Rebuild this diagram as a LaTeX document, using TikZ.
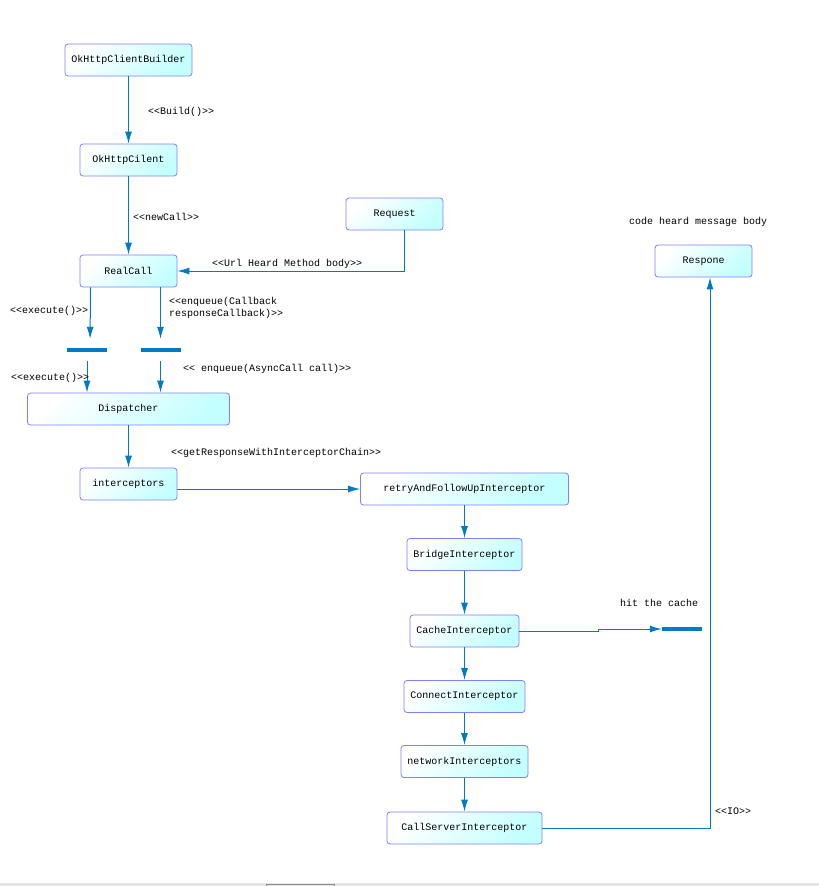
\documentclass[tikz,border=0pt]{standalone}
\usepackage{fontspec}
\setmonofont{Liberation Mono}
\usetikzlibrary{arrows.meta,positioning}

\definecolor{flowblue}{RGB}{0,122,192}
\definecolor{boxborder}{RGB}{128,128,255}
\definecolor{boxcyan}{RGB}{196,255,255}

\begin{document}
\begin{tikzpicture}[x=1pt,y=-1pt,
  class/.style={draw=boxborder, line width=0.8pt, rounded corners=3pt, top color=white, bottom color=boxcyan, shading angle=45, minimum height=32pt, inner sep=0pt, font=\ttfamily\fontsize{10}{12}\selectfont},
  flow/.style={flowblue, line width=1pt, -{Latex[length=12pt,width=7pt]}},
  fork/.style={fill=flowblue, minimum width=40pt, minimum height=4pt, inner sep=0pt},
  tag/.style={anchor=west, inner sep=0pt, font=\ttfamily\fontsize{10}{12}\selectfont}]

 \fill[white] (0,0) rectangle (819,886);
 \useasboundingbox (0,0) rectangle (819,886);

    % draw classes
    \node[class, minimum width=127pt] (builder) at (128.5,60) {OkHttpClientBuilder};
    \node[class, minimum width=97pt] (client) at (128.5,160) {OkHttpCilent};
    \node[class, minimum width=97pt] (request) at (394.5,214) {Request};
    \node[class, minimum width=97pt] (realcall) at (128.5,271) {RealCall};
    \node[class, minimum width=97pt] (respone) at (703.5,261) {Respone};
    \node[class, minimum width=202pt] (dispatcher) at (128.5,409) {Dispatcher};
    \node[class, minimum width=97pt] (interceptors) at (128.5,484) {interceptors};

    % interceptor chain
    \node[class, minimum width=208pt] (retry) at (464.5,489) {retryAndFollowUpInterceptor};
    \node[class, minimum width=115pt] (bridge) at (464.5,554.5) {BridgeInterceptor};
    \node[class, minimum width=109pt] (cache) at (464.5,631) {CacheInterceptor};
    \node[class, minimum width=121pt] (connect) at (464.5,696.5) {ConnectInterceptor};
    \node[class, minimum width=127pt] (network) at (464.5,761.5) {networkInterceptors};
    \node[class, minimum width=155pt] (callserver) at (464.5,828) {CallServerInterceptor};

    % draw fork bars
    \node[fork] (execbar) at (87,350) {};
    \node[fork] (enqbar) at (160.5,350) {};
    \node[fork] (hitbar) at (682,629) {};

    % draw connectors
    \draw[flow] (builder) -- (client);
    \draw[flow] (client) -- (realcall);
    \draw[flow] ([xshift=10pt]request.south) |- (realcall.east);
    \draw[flow, shorten >=9pt] ([xshift=-38pt]realcall.south) -- ([xshift=3pt]execbar.north);
    \draw[flow, shorten >=9pt] (realcall.south -| enqbar) -- (enqbar.north);
    \draw[flow, shorten <=9pt] (execbar.south) -- (execbar.south |- dispatcher.north);
    \draw[flow, shorten <=9pt] (enqbar.south) -- (enqbar.south |- dispatcher.north);
    \draw[flow] (dispatcher) -- (interceptors);
    \draw[flow] (interceptors.east |- retry) -- (retry.west);
    \draw[flow] (retry) -- (bridge);
    \draw[flow] (bridge) -- (cache);
    \draw[flow] (cache.east) -- ++(79,0) |- (hitbar.west);
    \draw[flow] (cache) -- (connect);
    \draw[flow] (connect) -- (network);
    \draw[flow] (network) -- (callserver);
    \draw[flow] (callserver.east) -| ([xshift=6.5pt]respone.south);

    % draw labels
    \node[tag] (buildlbl) at (148,112) {<<Build()>>};
    \node[tag] (newcalllbl) at (133,217) {<<newCall>>};
    \node[tag] (urllbl) at (212,264) {<<Url Heard Method body>>};
    \node[tag] (execlbl) at (10,311) {<<execute()>>};
    \node[tag, align=left] (enqlbl) at (169,308) {<<enqueue(Callback\\responseCallback)>>};
    \node[tag] (execlbltwo) at (11,378) {<<execute()>>};
    \node[tag] (asynclbl) at (183,369) {<< enqueue(AsyncCall call)>>};
    \node[tag] (chainlbl) at (171,453) {<<getResponseWithInterceptorChain>>};
    \node[tag] (hitlbl) at (620,603) {hit the cache};
    \node[tag] (bodylbl) at (629,222) {code heard message body};
    \node[tag] (iolbl) at (715,811) {<<IO>>};

    % window strip
    \fill[black!10] (0,883) rectangle (819,886);
    \draw[black!45] (266,886) -- (266,884) -- (334,884) -- (334,886);
\end{tikzpicture}
\end{document}
